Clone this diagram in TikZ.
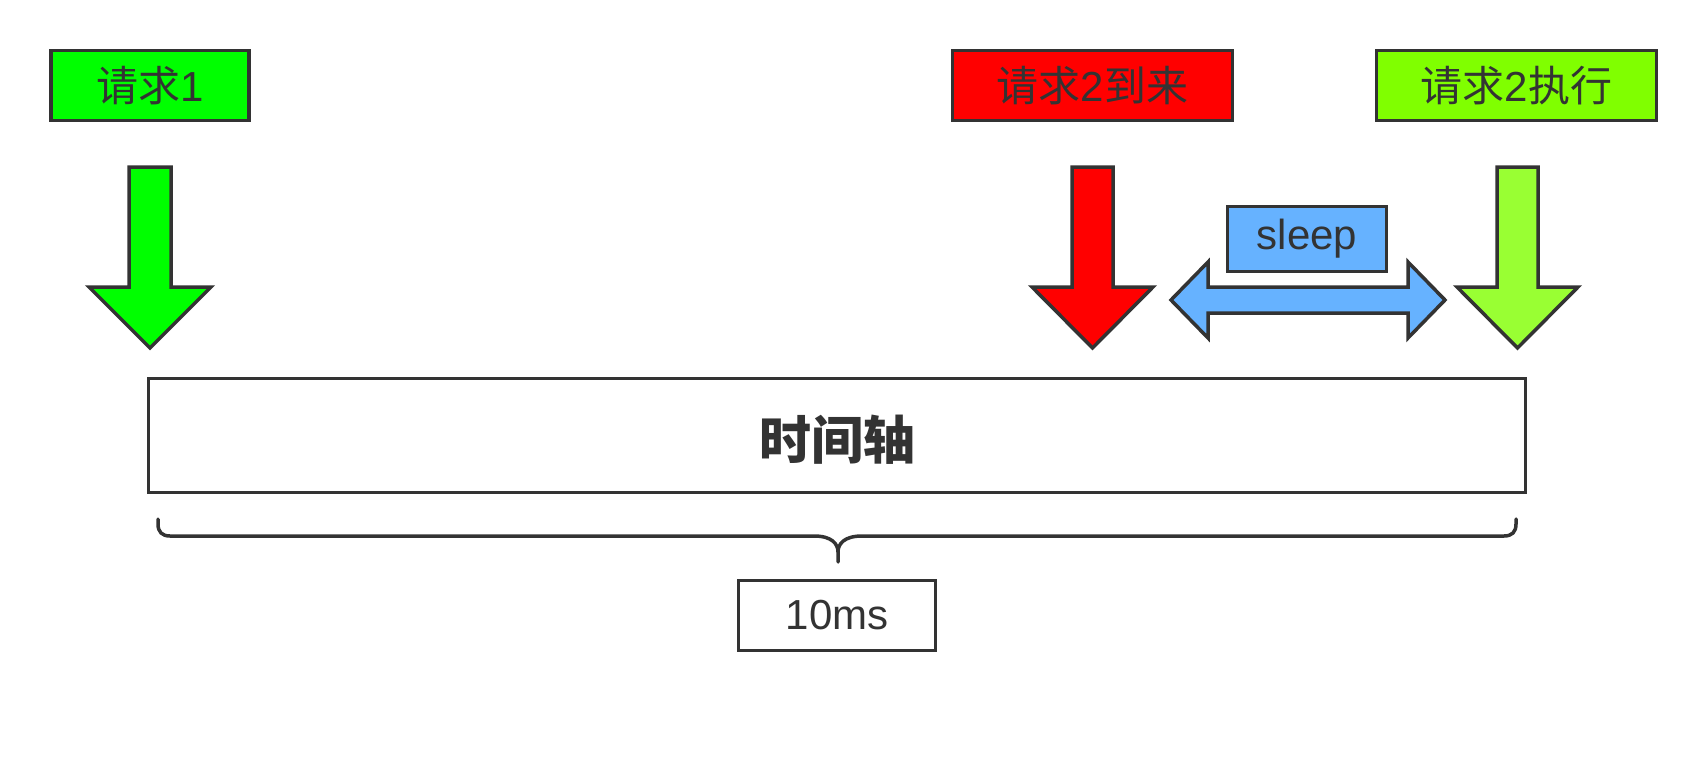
\documentclass[tikz,border=0pt]{standalone}
\usepackage{fontspec}
\setmainfont{Liberation Sans}
\newfontfamily\cjk{Noto Sans CJK SC}
\begin{document}
\begin{tikzpicture}[x=1pt,y=-1pt,
  line join=miter,
  ink/.style={draw=edge,line width=3.5pt},
  labelbox/.style={ink,minimum height=70pt,inner sep=0pt,font=\fontsize{42}{46}\selectfont,text=txt},
]
\definecolor{edge}{HTML}{333333}
\definecolor{txt}{HTML}{333333}
\definecolor{gA}{HTML}{00FF00}
\definecolor{rA}{HTML}{FF0000}
\definecolor{gB}{HTML}{80FF00}
\definecolor{gC}{HTML}{99FF33}
\definecolor{bS}{HTML}{66B2FF}
\useasboundingbox (0,0) rectangle (1706,776);

% top labels
\node[labelbox,fill=gA,minimum width=198pt] (r1) at (150,85.5) {{\cjk 请求}1};
\node[labelbox,fill=rA,minimum width=280pt] (r2a) at (1092.5,85.5) {{\cjk 请求}2{\cjk 到来}};
\node[labelbox,fill=gB,minimum width=280pt] (r2e) at (1516.5,85.5) {{\cjk 请求}2{\cjk 执行}};

% down arrows
\draw[ink,fill=gA] (129,167) -- (171,167) -- (171,287) -- (211,287) -- (150,348) -- (89,287) -- (129,287) -- cycle;
\draw[ink,fill=rA] (1072,167) -- (1113,167) -- (1113,287) -- (1153,287) -- (1092.5,348) -- (1032,287) -- (1072,287) -- cycle;
\draw[ink,fill=gC] (1497,167) -- (1538,167) -- (1538,287) -- (1578,287) -- (1517.5,348) -- (1457,287) -- (1497,287) -- cycle;

% sleep
\node[labelbox,fill=bS,minimum width=159pt,minimum height=65pt] (sl) at (1307,239) {sleep};
\draw[ink,fill=bS] (1171,300) -- (1208,262) -- (1208,287) -- (1408,287) -- (1408,262) -- (1445,300) -- (1408,338) -- (1408,313) -- (1208,313) -- (1208,338) -- cycle;

% time axis
\node[ink,minimum width=1377pt,minimum height=114pt,inner sep=0pt] (axis) at (837,435.5) {};
\node[text=txt,font=\cjk\bfseries\fontsize{52}{56}\selectfont,inner sep=0pt] (axislabel) at (837,440) {时间轴};

% brace
\coordinate (bl) at (158,519);
\coordinate (br) at (1516,519);
\coordinate (bt) at (838,562);
\draw[draw=edge,line width=3.5pt,line cap=round]
  (bl) -- (158,524) .. controls (158,532) and (162,536) .. (170,536)
  -- (814,536) .. controls (832,536) and (838,544) .. (838,552) -- (bt);
\draw[draw=edge,line width=3.5pt,line cap=round]
  (br) -- (1516,524) .. controls (1516,532) and (1512,536) .. (1504,536)
  -- (862,536) .. controls (844,536) and (838,544) .. (838,552);

% 10ms
\node[labelbox,fill=white,minimum width=197pt] (ms) at (837,615.5) {10ms};
\end{tikzpicture}
\end{document}
